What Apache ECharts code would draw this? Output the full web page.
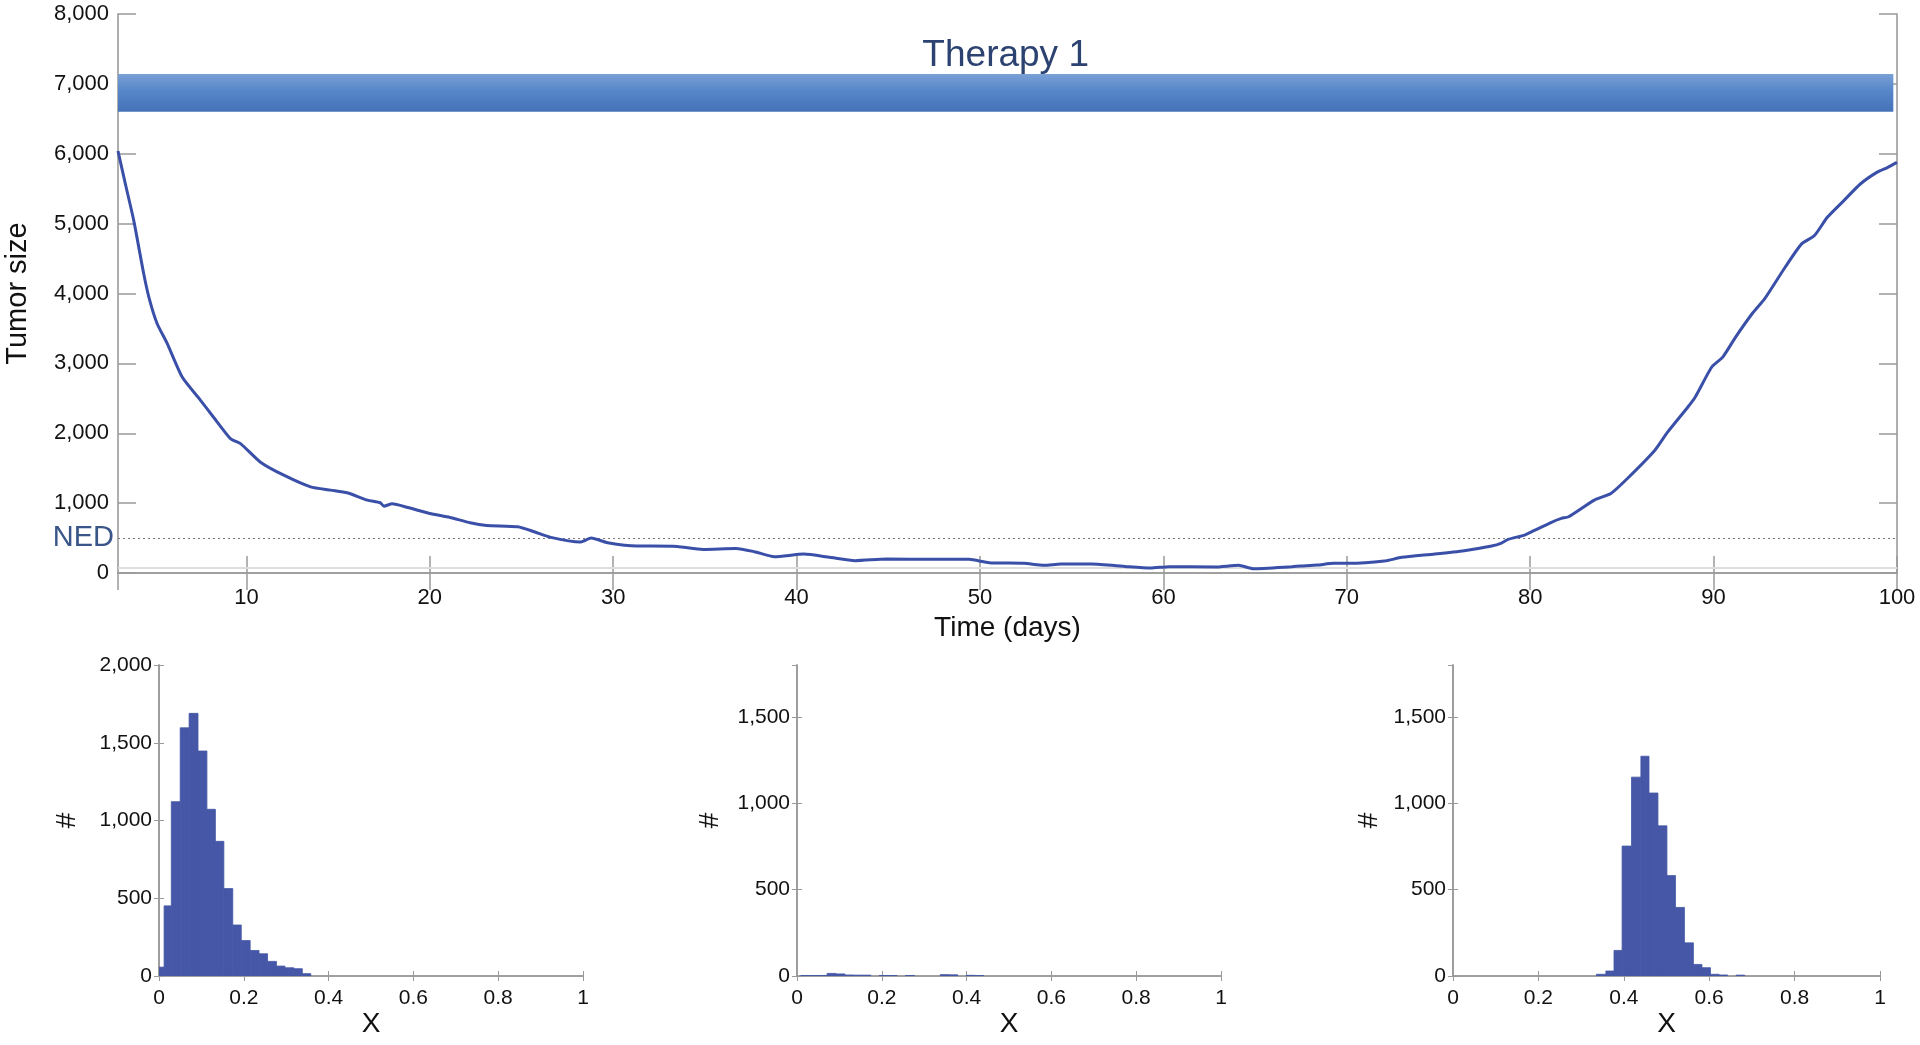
<!DOCTYPE html>
<html><head><meta charset="utf-8">
<script src="https://cdn.jsdelivr.net/npm/echarts@6/dist/echarts.min.js"></script>
<style>html,body{margin:0;padding:0;background:#fff}#c{width:1920px;height:1045px}</style>
</head><body><div id="c"></div>
<script>
// ---------- data ----------
const days = [3.0,3.4,3.86,4.4,4.7,5.13,5.68,6.5,7.5,8.2,9.13,9.68,10.77,12.04,13.5,14.6,15.5,16.6,17.3,17.5,17.95,18.8,20.0,21.1,22.2,23.1,24.8,25.7,26.6,28.2,28.8,29.7,31.3,32.1,33.5,34.9,36.7,37.7,38.8,40.4,41.8,43.2,44.9,47.4,49.4,50.5,52.4,53.5,54.4,56.1,58.0,59.3,60.3,62.8,64.1,64.9,67.0,67.5,68.4,69.3,70.1,72.05,73.0,74.8,76.4,77.9,78.4,78.8,79.7,80.2,81.1,81.7,82.1,83.5,84.4,85.3,86.8,87.5,88.6,89.0,89.9,90.5,91.2,92.1,92.8,93.9,94.8,95.5,96.2,97.1,98.0,98.9,99.5,100];
const tumorSize = [6040,5571,5043,4286,3930,3571,3286,2804,2471,2233,1924,1852,1586,1400,1233,1186,1148,1043,1005,957,990,938,852,795,719,681,662,590,510,443,500,433,386,386,379,338,352,305,233,271,224,176,200,195,195,148,138,110,129,129,91,71,91,86,110,62,91,100,114,138,138,171,224,271,319,386,424,481,543,605,719,781,805,1043,1138,1352,1757,2019,2376,2519,2948,3090,3376,3710,3930,4376,4710,4829,5090,5329,5567,5733,5805,5876];
const nedLevel = 500;
const baselineLevel = 70;
const therapyDays = [3, 99.8];
const therapyRange = [6600, 7140];
const therapyLabel = 'Therapy 1';
const topYTicks = [0, 8000, 1000];

const hist1Edges = [0,0.012,0.029,0.050,0.071,0.092,0.113,0.133,0.153,0.174,0.194,0.215,0.236,0.256,0.277,0.297,0.318,0.338,0.358];
const hist1Counts = [57,451,1121,1596,1689,1447,1072,866,562,328,228,164,143,94,64,53,47,15];

const hist2Edges = [0.009,0.029,0.050,0.071,0.092,0.113,0.133,0.153,0.174,0.194,0.215,0.236,0.256,0.277,0.297,0.318,0.338,0.358,0.379,0.399,0.420,0.440];
const hist2Counts = [3,3,3,15,12,6,5,5,0,3,3,0,3,0,0,0,8,7,0,4,3];

const hist3Edges = [0.336,0.358,0.377,0.396,0.418,0.440,0.459,0.480,0.501,0.521,0.542,0.563,0.583,0.603,0.623,0.643,0.663,0.683];
const hist3Counts = [10,29,148,752,1151,1272,1059,869,581,397,192,67,48,10,6,0,5];

const histYMax = [2000, 1800, 1800];

// ---------- styles ----------
const FONT = "'Liberation Sans', Arial, Helvetica, sans-serif";
const AXIS_COLOR = '#9a9a9a';
const LINE_COLOR = '#3a4fa8';
const HIST_COLOR = '#4557a6';

function fmt(v){ return Math.round(v).toLocaleString('en-US'); }

function histData(edges, counts){
  const out = [];
  for (let i = 0; i < counts.length; i++) out.push([edges[i], edges[i+1], counts[i]]);
  return out;
}
function histRender(params, api){
  if (api.value(2) <= 0) return null;
  const p0 = api.coord([api.value(0), api.value(2)]);
  const p1 = api.coord([api.value(1), 0]);
  return {type:'rect', shape:{x:p0[0], y:p0[1], width:p1[0]-p0[0], height:p1[1]-p0[1]},
          style:{fill:HIST_COLOR, stroke:HIST_COLOR, lineWidth:0.8}};
}

const grids = [
  {left:118, top:14, width:1779, height:559},
  {left:159, top:665, width:424, height:311},
  {left:797, top:665, width:424, height:311},
  {left:1453, top:665, width:427, height:311}
].map(g => Object.assign({outerBoundsMode:'none', containLabel:false}, g));

const line = {show:true, lineStyle:{color:AXIS_COLOR, width:1.6}};
const xAxes = [], yAxes = [];

// top chart axes
xAxes.push({gridIndex:0, type:'value', min:3, max:100, minInterval:10, maxInterval:10, position:'bottom',
  axisLine:line, axisTick:{inside:true, length:17, lineStyle:{color:AXIS_COLOR, width:1.5}},
  splitLine:{show:false},
  axisLabel:{showMinLabel:false, fontSize:22, color:'#111', fontFamily:FONT, margin:14},
  name:'Time (days)', nameLocation:'middle', nameGap:38,
  nameTextStyle:{fontSize:28, color:'#111', fontFamily:FONT}});
xAxes.push({gridIndex:0, type:'value', min:3, max:100, minInterval:10, maxInterval:10, position:'top',
  axisLine:line, axisTick:{inside:true, length:17, lineStyle:{color:AXIS_COLOR, width:1.5}},
  splitLine:{show:false}, axisLabel:{show:false}});
yAxes.push({gridIndex:0, type:'value', min:topYTicks[0], max:topYTicks[1], interval:topYTicks[2], position:'left',
  axisLine:line, axisTick:{inside:true, length:18, lineStyle:{color:AXIS_COLOR, width:1.5}},
  splitLine:{show:false},
  axisLabel:{fontSize:22, color:'#111', fontFamily:FONT, margin:9, formatter:fmt},
  name:'Tumor size', nameLocation:'middle', nameGap:86,
  nameTextStyle:{fontSize:29, color:'#111', fontFamily:FONT}});
yAxes.push({gridIndex:0, type:'value', min:topYTicks[0], max:topYTicks[1], interval:topYTicks[2], position:'right',
  axisLine:line, axisTick:{inside:true, length:18, lineStyle:{color:AXIS_COLOR, width:1.5}},
  splitLine:{show:false}, axisLabel:{show:false}});

// histogram axes
const nameGaps = [78, 73, 70];
for (let k = 0; k < 3; k++){
  const gi = k + 1;
  xAxes.push({gridIndex:gi, type:'value', min:0, max:1, interval:0.2, position:'bottom',
    axisLine:line, axisTick:{inside:true, length:5, lineStyle:{color:AXIS_COLOR}},
    splitLine:{show:false},
    axisLabel:{fontSize:21, color:'#111', fontFamily:FONT, margin:12},
    name:'X', nameLocation:'middle', nameGap:34,
    nameTextStyle:{fontSize:28, color:'#111', fontFamily:FONT}});
  xAxes.push({gridIndex:gi, type:'value', min:0, max:1, interval:0.2, position:'top',
    axisLine:line, axisTick:{inside:true, length:5, lineStyle:{color:AXIS_COLOR}},
    splitLine:{show:false}, axisLabel:{show:false}});
  yAxes.push({gridIndex:gi, type:'value', min:0, max:histYMax[k], interval:500, position:'left',
    axisLine:line, axisTick:{inside:true, length:5, lineStyle:{color:AXIS_COLOR}},
    splitLine:{show:false},
    axisLabel:{fontSize:21, color:'#111', fontFamily:FONT, margin:7, formatter:fmt,
               showMaxLabel: histYMax[k] % 500 === 0},
    name:'#', nameLocation:'middle', nameGap:nameGaps[k],
    nameTextStyle:{fontSize:28, color:'#111', fontFamily:FONT}});
  yAxes.push({gridIndex:gi, type:'value', min:0, max:histYMax[k], interval:500, position:'right',
    axisLine:line, axisTick:{inside:true, length:5, lineStyle:{color:AXIS_COLOR}},
    splitLine:{show:false}, axisLabel:{show:false}});
}

const series = [{
  type:'line', xAxisIndex:0, yAxisIndex:0, showSymbol:false, symbol:'none',
  smooth:0.2,
  data: days.map((d,i)=>[d, tumorSize[i]]),
  lineStyle:{color:LINE_COLOR, width:3}, z:5,
  markLine:{silent:true, symbol:'none', animation:false,
    data:[
      {yAxis:nedLevel, lineStyle:{color:'#777', type:[2,3], width:1},
       label:{show:true, position:'start', formatter:'NED', distance:4, fontSize:29, color:'#3a5688', fontFamily:FONT}},
      {yAxis:baselineLevel, lineStyle:{color:'#dedede', type:'solid', width:2}, label:{show:false}}
    ]},
  markArea:{silent:true,
    itemStyle:{color:{type:'linear', x:0, y:0, x2:0, y2:1,
      colorStops:[{offset:0, color:'#7aa0d6'},{offset:0.45, color:'#5686c8'},{offset:1, color:'#4672b8'}]}},
    label:{show:true, position:'top', distance:0, fontSize:37, color:'#2c4270', fontFamily:FONT},
    data:[[{name:therapyLabel, xAxis:therapyDays[0], yAxis:therapyRange[0]},
           {xAxis:therapyDays[1], yAxis:therapyRange[1]}]]}
}];
const hists = [[hist1Edges,hist1Counts],[hist2Edges,hist2Counts],[hist3Edges,hist3Counts]];
hists.forEach((h,k)=>{
  series.push({type:'custom', xAxisIndex:2*(k+1), yAxisIndex:2*(k+1), renderItem:histRender,
    encode:{x:[0,1], y:2}, data:histData(h[0], h[1]), clip:true});
});

const chart = echarts.init(document.getElementById('c'), null, {renderer:'canvas'});
chart.setOption({animation:false, backgroundColor:'#fff', grid:grids, xAxis:xAxes, yAxis:yAxes, series:series});
</script></body></html>
